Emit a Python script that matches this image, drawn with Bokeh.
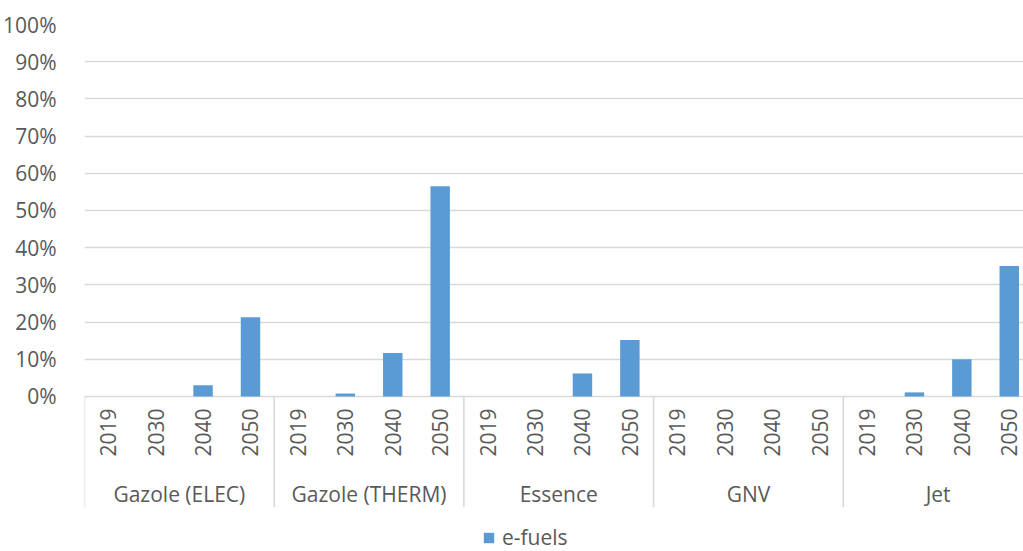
from bokeh.plotting import figure
from bokeh.models import Range1d, FixedTicker, NumeralTickFormatter, ColumnDataSource, Legend, LegendItem
from bokeh.core.properties import value
from bokeh.embed import file_html
from bokeh.resources import INLINE

# ---- data ----
groups = ["Gazole (ELEC)", "Gazole (THERM)", "Essence", "GNV", "Jet"]
years = ["2019", "2030", "2040", "2050"]
gazole_elec = [0.0, 0.0, 3.0, 21.3]
gazole_therm = [0.0, 0.8, 11.7, 56.5]
essence = [0.0, 0.0, 6.2, 15.2]
gnv = [0.0, 0.0, 0.0, 0.0]
jet = [0.0, 1.1, 10.0, 35.1]
series_name = "e-fuels"
y_ticks = [0, 10, 20, 30, 40, 50, 60, 70, 80, 90, 100]

values = gazole_elec + gazole_therm + essence + gnv + jet
n_cat = len(values)
n_year = len(years)

FONT = "Open Sans"
TXT = "#595959"
GRID = "#d9d9d9"
BAR = "#5B9BD5"
FS = "21px"

x_center = [i + 0.5 for i in range(n_cat)]
year_labels = [years[i % n_year] for i in range(n_cat)]
src = ColumnDataSource(dict(x=x_center, top=[v / 100 for v in values], yl=year_labels))

p = figure(width=1023, height=551, output_backend="svg", toolbar_location=None,
           x_range=Range1d(0, 19.8), y_range=Range1d(-0.4167, 1.0),
           min_border_left=84, min_border_right=0, min_border_top=24, min_border_bottom=0)
p.outline_line_color = None
p.background_fill_color = "white"
p.border_fill_color = "white"

# bars
r = p.vbar(x="x", top="top", width=0.41, bottom=0, source=src,
           fill_color=BAR, line_color=None)

# y axis
p.yaxis.ticker = FixedTicker(ticks=[t / 100 for t in y_ticks])
p.yaxis.formatter = NumeralTickFormatter(format="0%")
p.yaxis.axis_line_color = None
p.yaxis.major_tick_line_color = None
p.yaxis.minor_tick_line_color = None
p.yaxis.major_label_text_font = FONT
p.yaxis.major_label_text_font_size = FS
p.yaxis.major_label_text_color = TXT
p.yaxis.major_label_standoff = 22
p.ygrid.grid_line_color = GRID
p.ygrid.grid_line_width = 1.6
p.xgrid.grid_line_color = None
p.xaxis.visible = False

# year labels (rotated)
p.text(x="x", y=-0.032, text="yl", source=src, angle=1.5708,
       text_align="right", text_baseline="middle",
       text_font=value(FONT), text_font_size=FS, text_color=TXT)

# group labels
g_center = [g * n_year + n_year / 2 for g in range(len(groups))]
p.text(x=g_center, y=[-0.261] * len(groups), text=groups,
       text_align="center", text_baseline="middle",
       text_font=value(FONT), text_font_size=FS, text_color=TXT)

# separators
bounds = [g * n_year for g in range(len(groups) + 1)]
p.segment(x0=bounds, y0=[0] * len(bounds), x1=bounds, y1=[-0.298] * len(bounds),
          line_color=GRID, line_width=1.6)

# legend
legend = Legend(items=[LegendItem(label=series_name, renderers=[r])],
                location=(398, 0), orientation="horizontal",
                glyph_width=13, glyph_height=13, label_standoff=7,
                padding=0, margin=0, border_line_color=None,
                background_fill_alpha=0,
                label_text_font=FONT, label_text_font_size=FS, label_text_color=TXT)
p.add_layout(legend, "center")

open("out.html", "w").write(file_html(p, INLINE))
